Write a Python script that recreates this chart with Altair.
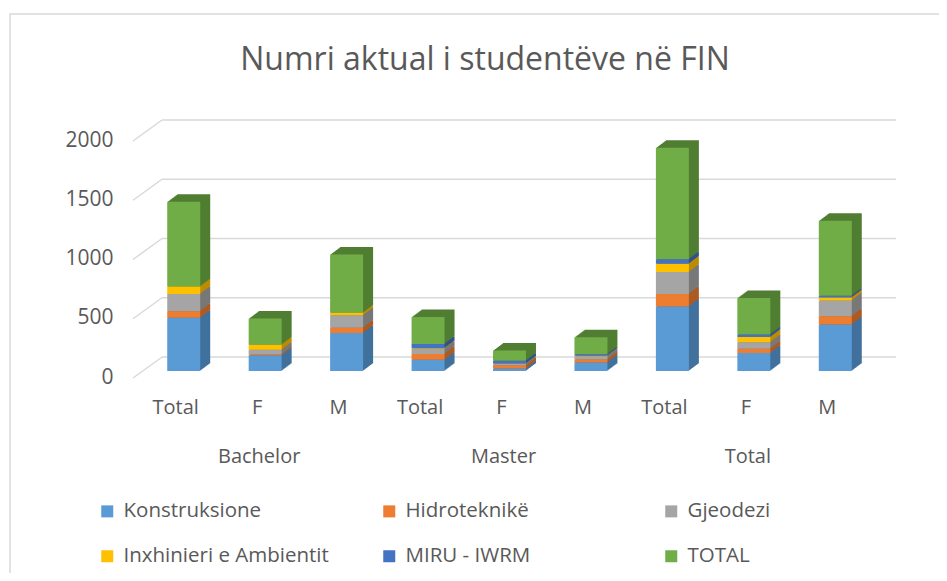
import altair as alt
import pandas as pd

# ---- data ----
groups = ["Bachelor", "Bachelor", "Bachelor", "Master", "Master", "Master", "Total", "Total", "Total"]
subs = ["Total", "F", "M", "Total", "F", "M", "Total", "F", "M"]
series = ["Konstruksione", "Hidroteknikë", "Gjeodezi", "Inxhinieri e Ambientit", "MIRU - IWRM", "TOTAL"]
konstruksione = [450, 130, 320, 94, 22, 72, 544, 152, 392]
hidroteknike = [55, 10, 45, 50, 26, 24, 105, 36, 69]
gjeodezi = [145, 40, 105, 42, 14, 28, 187, 54, 133]
inxhinieri = [64, 42, 22, 6, 2, 4, 70, 44, 26]
miru = [0, 0, 0, 36, 22, 14, 36, 22, 14]
total = [714, 222, 492, 228, 86, 142, 942, 308, 634]
y_ticks = [0, 500, 1000, 1500, 2000]
group_names = ["Bachelor", "Master", "Total"]
title_text = "Numri aktual i studentëve në FIN"

# ---- styles ----
front_colors = ["#5B9BD5", "#ED7D31", "#A5A5A5", "#FFC000", "#4472C4", "#70AD47"]
side_colors = ["#41719C", "#AE5A21", "#787878", "#BC8C00", "#2F528F", "#507E32"]
FONT = "Open Sans"
TXT = "#595959"
W, H = 733, 237

keys = [f"{g}|{s}" for g, s in zip(groups, subs)]
values_by_series = [konstruksione, hidroteknike, gjeodezi, inxhinieri, miru, total]
rows = []
for si, (name, vals) in enumerate(zip(series, values_by_series)):
    for k, g, s, v in zip(keys, groups, subs, vals):
        rows.append({"key": k, "group": g, "sub": s, "series": name, "idx": si, "value": v})
df = pd.DataFrame(rows)
grid_df = pd.DataFrame({"v": y_ticks})
glabel_df = pd.DataFrame({"key": [f"{g}|F" for g in group_names], "name": group_names})
title_df = pd.DataFrame({"t": [title_text]})
one_df = pd.DataFrame({"a": [0]})

yscale = alt.Scale(domain=[0, 2000], nice=False, zero=True)
xscale = alt.Scale(paddingInner=0.595, paddingOuter=0.2975)
yaxis = alt.Axis(values=y_ticks, format="d", grid=False, domain=False, ticks=False, labelPadding=30,
                 labelOffset=6, labelFontSize=21, labelColor=TXT, labelFont=FONT, title=None)
xaxis = alt.Axis(labelExpr="split(datum.label, '|')[1]", labelAngle=0, domain=False, ticks=False,
                 labelPadding=26, labelOffset=-8, labelFontSize=20, labelColor=TXT,
                 labelFont=FONT, title=None)

X = alt.X("key:N", sort=keys, scale=xscale, axis=xaxis)

border = alt.Chart(one_df).mark_rect(filled=False, stroke="#D9D9D9", strokeWidth=1.5).encode(
    x=alt.value(-133), x2=alt.value(830), y=alt.value(-120), y2=alt.value(470))

grid = alt.Chart(grid_df).mark_rule(color="#D9D9D9", strokeWidth=1.5, yOffset=-14).encode(
    y=alt.Y("v:Q", scale=yscale, axis=yaxis), x=alt.value(19), x2=alt.value(753))

diag = alt.Chart(grid_df).mark_rule(color="#D9D9D9", strokeWidth=1.5, yOffset=7, y2Offset=-14).encode(
    y=alt.Y("v:Q", scale=yscale, axis=yaxis), y2=alt.Y2("v"), x=alt.value(-10), x2=alt.value(19))

layers = [border, grid, diag]
for i in range(10, 0, -1):
    dx = float(i)
    dy = -0.75 * i
    side = alt.Chart(df).mark_bar(xOffset=dx, x2Offset=dx, yOffset=dy, y2Offset=dy, strokeWidth=0).encode(
        x=X,
        y=alt.Y("value:Q", stack="zero", scale=yscale, axis=yaxis),
        color=alt.Color("series:N", scale=alt.Scale(domain=series, range=side_colors), legend=None),
        order=alt.Order("idx:Q", sort="ascending"),
    )
    layers.append(side)

front = alt.Chart(df).mark_bar(strokeWidth=0).encode(
    x=X,
    y=alt.Y("value:Q", stack="zero", scale=yscale, axis=yaxis),
    color=alt.Color("series:N", scale=alt.Scale(domain=series, range=front_colors),
                    legend=alt.Legend(orient="none", legendX=-46, legendY=367, direction="horizontal",
                                      columns=3, gridAlign="all", columnPadding=50, rowPadding=24,
                                      symbolType="square", symbolSize=144, symbolStrokeWidth=0,
                                      labelFontSize=20.5, labelColor=TXT, labelFont=FONT, labelLimit=400,
                                      labelOffset=6, padding=0, title=None)),
    order=alt.Order("idx:Q", sort="ascending"),
    tooltip=["group:N", "sub:N", "series:N", "value:Q"],
)
layers.append(front)

glabels = alt.Chart(glabel_df).mark_text(fontSize=20, font=FONT, color=TXT, baseline="middle", dx=-6).encode(
    x=alt.X("key:N", sort=keys, scale=xscale, axis=xaxis), y=alt.value(H + 86), text="name:N")
layers.append(glabels)

title = alt.Chart(title_df).mark_text(fontSize=32, font=FONT, color=TXT, baseline="middle").encode(
    x=alt.value(342), y=alt.value(-74), text="t:N")
layers.append(title)

chart = alt.layer(*layers).resolve_scale(color="independent").properties(
    width=W, height=H,
    autosize=alt.AutoSizeParams(type="none"),
    padding={"left": 135, "top": 126, "right": 63, "bottom": 202},
    background="white",
).configure_view(stroke=None)

chart.save("out.html", embed_options={"renderer": "svg", "actions": False})
